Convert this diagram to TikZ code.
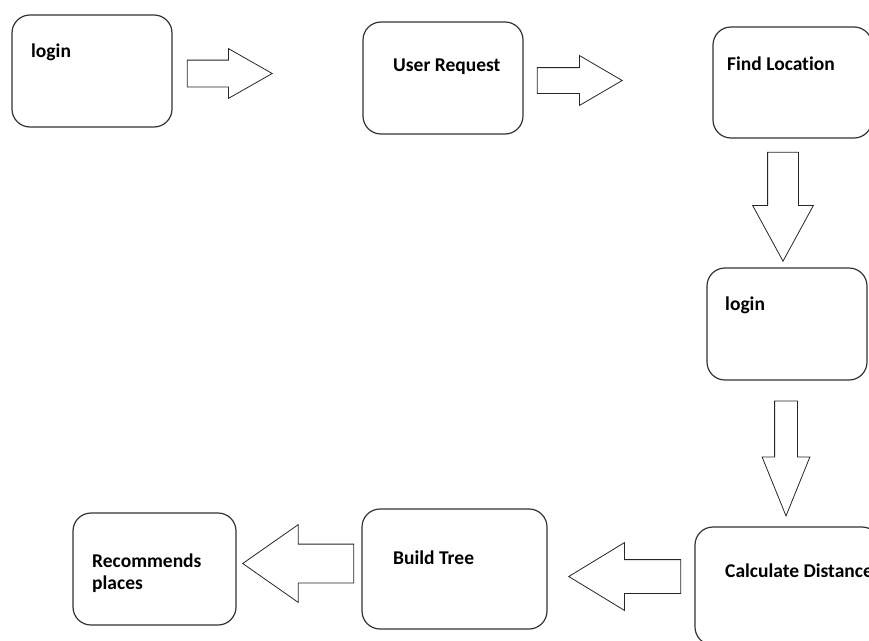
\documentclass[tikz,border=0pt]{standalone}
\usepackage{fontspec}
\setmainfont{Carlito}[Ligatures=NoCommon]
\usepackage{tikz}
\usetikzlibrary{shapes.arrows}

\begin{document}
\begin{tikzpicture}[x=1pt,y=-1pt]
\tikzstyle{box} =[draw=black!80, rounded corners=18pt, line width=1.2pt]
\tikzstyle{txt} =[anchor=base west, inner sep=0pt, align=left, font=\fontsize{19.5}{22}\selectfont\bfseries]
\tikzset{fat/.style n args={4}%
{single arrow, draw=black!85, line width=0.8pt, inner xsep=0pt, inner ysep=#2/2,
 single arrow head extend=#3, single arrow tip angle=#4, minimum height=#1, anchor=tip}}

\clip (0,0) rectangle (869,640);

% boxes
\node[box, minimum width=160, minimum height=112](login1) at (92,71){};
\node[box, minimum width=160, minimum height=112](req) at (443,78){};
\node[box, minimum width=159, minimum height=111](loc) at (792.5,82.5){};
\node[box, minimum width=160, minimum height=112](login2) at (787,324){};
\node[box, minimum width=185, minimum height=118](dist) at (787.5,586){};
\node[box, minimum width=185, minimum height=120](tree) at (454.5,569){};
\node[box, minimum width=163, minimum height=112](rec) at (154.5,569){};

% texts
\node[txt](tlogin1) at (31,57){login};
\node[txt](treq) at (393,71){User Request};
\node[txt](tloc) at (727,70){Find Location};
\node[txt](tlogin2) at (725,310){login};
\node[txt](tdist) at (725,577){Calculate Distance};
\node[txt](ttree) at (393,564){Build Tree};
\node[txt](trec) at (92,589){Recommends\\places};

% block arrows
\node[fat={85}{26}{11.5}{59.3}](a1) at (273,73.5){};
\node[fat={85}{25}{12}{60.5}](a2) at (623,80.5){};
\node[fat={109}{30}{15}{57.2}, rotate=-90](a3) at (783,262){};
\node[fat={115}{22}{12.5}{44.1}, rotate=-90](a4) at (786,517){};
\node[fat={112}{33}{17}{62.7}, rotate=180](a5) at (568,576.5){};
\node[fat={111}{38}{19.5}{70}, rotate=180](a6) at (242,563.5){};
\end{tikzpicture}
\end{document}
